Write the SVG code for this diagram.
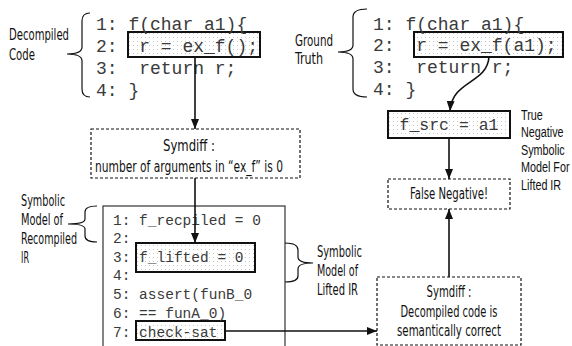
<svg xmlns="http://www.w3.org/2000/svg" width="572" height="346" viewBox="0 0 572 346">
<style>
.lbl{font-family:"Liberation Sans Narrow","DejaVu Sans Condensed","Liberation Sans",sans-serif;font-size:15px;fill:#111}
.lbs{font-family:"Liberation Sans",Arial,sans-serif;font-size:15px;fill:#111}
.code{font-family:"Liberation Mono","Courier New",monospace;fill:#3a3a3a;white-space:pre}
.c18{font-size:18px}
.c14{font-size:14.5px}
.solid{fill:url(#dots);stroke:#111;stroke-width:2}
.dash{fill:#fff;stroke:#111;stroke-width:1.2;stroke-dasharray:3 2}
.conn{fill:none;stroke:#111;stroke-width:1.6}
.brace{fill:none;stroke:#111;stroke-width:1.2}
</style>
<defs>
<pattern id="dots" width="4" height="4" patternUnits="userSpaceOnUse">
<rect width="4" height="4" fill="#fff"/>
<rect x="1" y="1" width="1" height="1" fill="#c8c8c8"/>
</pattern>
<marker id="ah" viewBox="0 0 10 8" refX="10" refY="4" markerWidth="10" markerHeight="8" markerUnits="userSpaceOnUse" orient="auto">
<path d="M0,0 L10,4 L0,8 z" fill="#111"/>
</marker>
</defs>
<rect width="572" height="346" fill="#fff"/>

<g id="decompiled">
<text class="lbl" x="9" y="40" textLength="60" lengthAdjust="spacingAndGlyphs">Decompiled</text>
<text class="lbl" x="9" y="60" textLength="26" lengthAdjust="spacingAndGlyphs">Code</text>
<path class="brace" d="M90,13 Q82,13 82,21 L82,47 Q82,54 67,54 Q82,54 82,61 L82,89 Q82,97 90,97"/>
<rect class="solid" x="128" y="32" width="132" height="25"/>
<text class="code c18" x="96" y="30">1: f(char a1){</text>
<text class="code c18" x="96" y="52">2:  r = ex_f();</text>
<text class="code c18" x="96" y="74">3:  return r;</text>
<text class="code c18" x="96" y="96">4: }</text>
</g>

<g id="ground">
<text class="lbl" x="295" y="46" textLength="38" lengthAdjust="spacingAndGlyphs">Ground</text>
<text class="lbl" x="295" y="64" textLength="28" lengthAdjust="spacingAndGlyphs">Truth</text>
<path class="brace" d="M367,9 Q353,9 353,17 L353,45 Q353,52 338,52 Q353,52 353,59 L353,89 Q353,97 367,97"/>
<rect class="solid" x="414" y="32" width="149" height="25"/>
<text class="code c18" x="373" y="30">1: f(char a1){</text>
<text class="code c18" x="373" y="51">2:  r = ex_f(a1);</text>
<text class="code c18" x="373" y="73">3:  return r;</text>
<text class="code c18" x="373" y="95">4: }</text>
</g>

<g id="symdiff1">
<rect class="dash" x="91" y="129" width="209" height="49"/>
<text class="lbl" x="189" y="151" text-anchor="middle" textLength="52" lengthAdjust="spacingAndGlyphs">Symdiff :</text>
<text class="lbl" x="189" y="172" text-anchor="middle" textLength="188" lengthAdjust="spacingAndGlyphs">number of arguments in “ex_f” is 0</text>
</g>

<g id="recompiled">
<text class="lbl" x="21" y="206" textLength="44" lengthAdjust="spacingAndGlyphs">Symbolic</text>
<text class="lbl" x="21" y="225" textLength="42" lengthAdjust="spacingAndGlyphs">Model of</text>
<text class="lbl" x="21" y="244" textLength="56" lengthAdjust="spacingAndGlyphs">Recompiled</text>
<text class="lbl" x="21" y="263" textLength="8" lengthAdjust="spacingAndGlyphs">IR</text>
<path class="brace" d="M97,206 Q85,206 85,212 L85,219 Q85,224 68,224 Q85,224 85,229 L85,236 Q85,242 97,242"/>
<rect x="103" y="206" width="182" height="150" fill="#fff" stroke="#333" stroke-width="1.2"/>
<rect class="solid" x="136" y="243" width="119" height="29"/>
<rect class="solid" x="136" y="321" width="89" height="19"/>
<text class="code c14" x="113" y="225">1: f_recpiled = 0</text>
<text class="code c14" x="113" y="243">2:</text>
<text class="code c14" x="113" y="262">3: f_lifted = 0</text>
<text class="code c14" x="113" y="280">4:</text>
<text class="code c14" x="113" y="299">5: assert(funB_0</text>
<text class="code c14" x="113" y="318">6: == funA_0)</text>
<text class="code c14" x="113" y="337">7: check-sat</text>
</g>

<g id="lifted-label">
<path class="brace" d="M285,243 Q298,243 298,250 L298,257 Q298,263 313,263 Q298,263 298,269 L298,276 Q298,282 285,282"/>
<text class="lbl" x="317" y="257" textLength="45" lengthAdjust="spacingAndGlyphs">Symbolic</text>
<text class="lbl" x="317" y="276" textLength="41" lengthAdjust="spacingAndGlyphs">Model of</text>
<text class="lbl" x="317" y="295" textLength="41" lengthAdjust="spacingAndGlyphs">Lifted IR</text>
</g>

<g id="fsrc">
<rect class="solid" x="388" y="111" width="122" height="27"/>
<text class="code" x="449" y="130" text-anchor="middle" font-size="16.5">f_src = a1</text>
</g>

<g id="truenegative" transform="translate(521,0) scale(0.72,1)">
<text class="lbs" x="0" y="120">True</text>
<text class="lbs" x="0" y="137.5">Negative</text>
<text class="lbs" x="0" y="155">Symbolic</text>
<text class="lbs" x="0" y="172.5">Model For</text>
<text class="lbs" x="0" y="190">Lifted IR</text>
</g>

<g id="falsenegative">
<rect class="dash" x="388" y="179" width="122" height="30"/>
<text class="lbl" x="449" y="199" text-anchor="middle" textLength="78" lengthAdjust="spacingAndGlyphs">False Negative!</text>
</g>

<g id="symdiff2">
<rect class="dash" x="377" y="277" width="144" height="68"/>
<text class="lbl" x="449" y="297" text-anchor="middle" textLength="45" lengthAdjust="spacingAndGlyphs">Symdiff :</text>
<text class="lbl" x="449" y="317" text-anchor="middle" textLength="97" lengthAdjust="spacingAndGlyphs">Decompiled code is</text>
<text class="lbl" x="449" y="336" text-anchor="middle" textLength="104" lengthAdjust="spacingAndGlyphs">semantically correct</text>
</g>

<g id="connectors">
<line class="conn" x1="195" y1="57" x2="195" y2="129" marker-end="url(#ah)"/>
<line class="conn" x1="195" y1="178" x2="195" y2="243" marker-end="url(#ah)"/>
<line class="conn" x1="225" y1="331" x2="377" y2="331" marker-end="url(#ah)"/>
<line class="conn" x1="449" y1="277" x2="449" y2="209" marker-end="url(#ah)"/>
<line class="conn" x1="449" y1="138" x2="449" y2="179" marker-end="url(#ah)"/>
<path class="conn" d="M489,57 C487,84 452,80 450,111" marker-end="url(#ah)"/>
</g>
</svg>
